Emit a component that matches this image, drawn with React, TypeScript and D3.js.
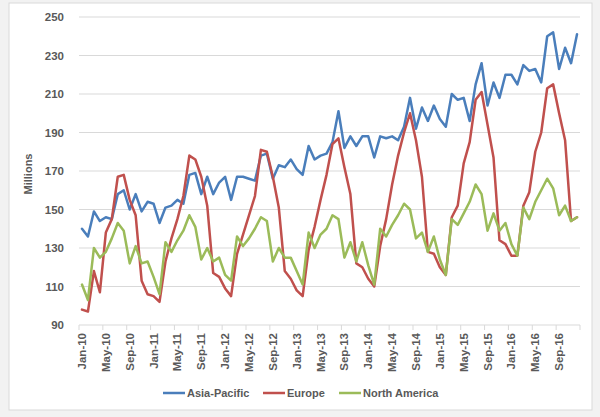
import React from 'react'
import * as d3 from 'd3'

const monthNames = ['Jan', 'Feb', 'Mar', 'Apr', 'May', 'Jun', 'Jul', 'Aug', 'Sep', 'Oct', 'Nov', 'Dec']
const years = ['10', '11', '12', '13', '14', '15', '16']

// one label per month, Jan-10 .. Dec-16
const months: string[] = years.flatMap(y => monthNames.map(m => `${m}-${y}`))

// every fourth month carries a label
const tickLabels = [
  'Jan-10', 'May-10', 'Sep-10', 'Jan-11', 'May-11', 'Sep-11', 'Jan-12', 'May-12', 'Sep-12',
  'Jan-13', 'May-13', 'Sep-13', 'Jan-14', 'May-14', 'Sep-14', 'Jan-15', 'May-15', 'Sep-15',
  'Jan-16', 'May-16', 'Sep-16'
]

const yTicks = [90, 110, 130, 150, 170, 190, 210, 230, 250]

const asiaPacific = [
  140, 136, 149, 144, 146, 145, 158, 160, 150, 158, 149, 154,
  153, 143, 151, 152, 155, 153, 168, 169, 158, 167, 158, 164,
  167, 155, 167, 167, 166, 165, 178, 179, 166, 173, 172, 176,
  171, 168, 183, 176, 178, 179, 185, 201, 182, 188, 183, 188,
  188, 177, 188, 187, 188, 186, 193, 208, 192, 203, 196, 204,
  197, 193, 210, 207, 208, 196, 215, 226, 204, 216, 208, 220,
  220, 215, 225, 222, 223, 216, 240, 242, 223, 234, 226, 241
]

const europe = [
  98, 97, 118, 107, 138, 145, 167, 168, 155, 147, 113, 106,
  105, 102, 123, 135, 145, 157, 178, 176, 167, 152, 117, 115,
  109, 105, 127, 137, 147, 157, 181, 180, 167, 151, 118, 114,
  108, 105, 129, 141, 155, 168, 184, 187, 172, 158, 122, 120,
  114, 110, 131, 145, 163, 178, 190, 200, 186, 167, 128, 127,
  120, 116, 146, 152, 174, 185, 207, 211, 194, 177, 134, 132,
  126, 126, 152, 159, 180, 190, 213, 215, 200, 186, 144, 146
]

const northAmerica = [
  111, 103, 130, 125, 128, 135, 143, 139, 122, 131, 122, 123,
  115, 106, 133, 128, 134, 139, 147, 141, 124, 130, 123, 125,
  116, 113, 136, 131, 135, 140, 146, 144, 123, 130, 125, 125,
  118, 111, 138, 130, 137, 140, 147, 145, 125, 133, 123, 133,
  121, 111, 140, 136, 142, 147, 153, 150, 135, 138, 128, 136,
  124, 116, 145, 142, 148, 154, 163, 158, 139, 148, 139, 143,
  132, 126, 151, 145, 154, 160, 166, 161, 147, 152, 144, 146
]

const seriesNames = ['Asia-Pacific', 'Europe', 'North America']
const seriesColors = ['#4a7ebb', '#c0504d', '#9bbb59']

const W = 600
const H = 417
const plot = { left: 79, right: 580, top: 17, bottom: 325 }
const font = '"Liberation Sans", Arial, sans-serif'
const labelColor = '#595959'

export default function App() {
  const x = d3.scaleBand<string>().domain(months).range([plot.left, plot.right]).padding(0)
  const y = d3.scaleLinear().domain([90, 250]).range([plot.bottom, plot.top])
  const cx = (m: string) => (x(m) ?? 0) + x.bandwidth() / 2

  const line = d3.line<number>()
    .x((_, i) => cx(months[i]))
    .y(d => y(d))

  const allSeries = [asiaPacific, europe, northAmerica]

  // tick marks sit on the boundaries between categories, every 4 months
  const tickBounds = d3.range(0, months.length + 1, 4).map(i =>
    i < months.length ? (x(months[i]) ?? 0) : plot.right)

  const legendX = [163, 263, 339]

  return (
    <div style={{ position: 'absolute', left: 0, top: 0 }}>
      <svg width={W} height={H} style={{ display: 'block' }}>
        <rect x={0} y={0} width={W} height={H} fill="#f2f2f2" />
        <rect x={9} y={3} width={583} height={407} fill="#fff" stroke="#d9d9d9" strokeWidth={1} />

        {/* gridlines */}
        {yTicks.slice(1).map(t => (
          <line key={t} x1={plot.left} x2={plot.right} y1={y(t)} y2={y(t)} stroke="#d9d9d9" strokeWidth={1} />
        ))}
        <line x1={plot.left} x2={plot.right} y1={y(90)} y2={y(90)} stroke="#d9d9d9" strokeWidth={1} />
        {tickBounds.map((b, i) => (
          <line key={i} x1={b} x2={b} y1={plot.bottom} y2={plot.bottom + 5} stroke="#d9d9d9" strokeWidth={1} />
        ))}

        {/* y labels */}
        {yTicks.map(t => (
          <text key={t} x={64} y={y(t)} dy="0.35em" textAnchor="end" fontFamily={font}
            fontSize={11.5} fontWeight="bold" fill={labelColor}>{t}</text>
        ))}
        <text transform={`translate(28,${(plot.top + plot.bottom) / 2 + 3}) rotate(-90)`} textAnchor="middle"
          dy="0.35em" fontFamily={font} fontSize={11} fontWeight="bold" fill={labelColor}>Millions</text>

        {/* x labels */}
        {tickLabels.map(l => (
          <text key={l} transform={`translate(${cx(l)},${plot.bottom + 8}) rotate(-90)`} textAnchor="end"
            dy="0.35em" fontFamily={font} fontSize={11.5} fontWeight="bold" fill={labelColor}>{l}</text>
        ))}

        {/* series */}
        {allSeries.map((s, k) => (
          <path key={k} d={line(s) ?? ''} fill="none" stroke={seriesColors[k]} strokeWidth={2.5}
            strokeLinejoin="round" strokeLinecap="round" />
        ))}

        {/* legend */}
        {seriesNames.map((n, k) => (
          <g key={n} transform={`translate(${legendX[k]},393)`}>
            <line x1={0} x2={22} y1={0} y2={0} stroke={seriesColors[k]} strokeWidth={2.5} />
            <text x={24} y={0} dy="0.35em" fontFamily={font} fontSize={11} fontWeight="bold" fill={labelColor}>{n}</text>
          </g>
        ))}
      </svg>
    </div>
  )
}
